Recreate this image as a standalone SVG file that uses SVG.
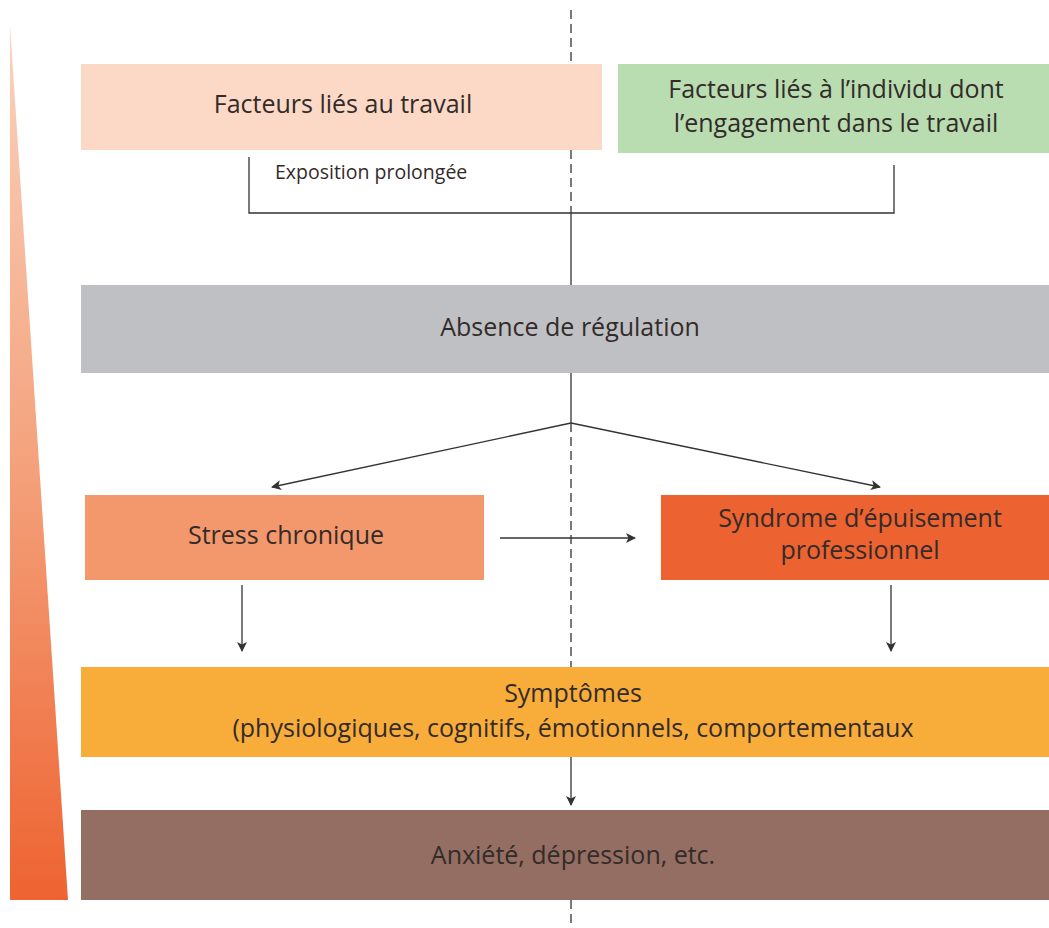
<svg xmlns="http://www.w3.org/2000/svg" width="1049" height="928" viewBox="0 0 1049 928">
<defs>
<linearGradient id="tri" x1="0" y1="0" x2="0" y2="1">
<stop offset="0" stop-color="#fad3bf"/>
<stop offset="0.5" stop-color="#f4a27c"/>
<stop offset="1" stop-color="#ee6331"/>
</linearGradient>
<marker id="ah" viewBox="0 0 10 10" refX="9" refY="5" markerWidth="10" markerHeight="10" markerUnits="userSpaceOnUse" orient="auto">
<path d="M0,0 L10,5 L0,10 L2.5,5 Z" fill="#333"/>
</marker>
<style>
.t{font-family:"Open Sans","Noto Sans",sans-serif;fill:#332b29;text-anchor:middle;font-size:25px}
.s{font-family:"Open Sans","Noto Sans",sans-serif;fill:#332b29;font-size:19.5px}
.c{stroke:#333;stroke-width:1.3;fill:none}
.d{stroke:#333;stroke-width:1.3;stroke-dasharray:9,5;fill:none}
</style>
</defs>
<rect width="1049" height="928" fill="#fff"/>
<polygon points="10,25 68,900 10,900" fill="url(#tri)"/>
<g id="connectors">
<line class="d" x1="571" y1="10" x2="571" y2="213"/>
<line class="c" x1="571" y1="213" x2="571" y2="285"/>
<line class="c" x1="571" y1="373" x2="571" y2="423"/>
<line class="d" x1="571" y1="423" x2="571" y2="667"/>
<line class="d" x1="571" y1="900" x2="571" y2="928"/>
<polyline class="c" points="249,157 249,213 894,213 894,165"/>
<line class="c" x1="571" y1="423" x2="272" y2="487" marker-end="url(#ah)"/>
<line class="c" x1="571" y1="423" x2="880" y2="487" marker-end="url(#ah)"/>
<line class="c" x1="500" y1="538" x2="635" y2="538" marker-end="url(#ah)"/>
<line class="c" x1="242" y1="585" x2="242" y2="651" marker-end="url(#ah)"/>
<line class="c" x1="891" y1="585" x2="891" y2="651" marker-end="url(#ah)"/>
<line class="c" x1="571" y1="757" x2="571" y2="805" marker-end="url(#ah)"/>
</g>
<g id="travail">
<rect x="81" y="64" width="521" height="86" fill="#fbd9c6"/>
<text class="t" x="343" y="113">Facteurs liés au travail</text>
</g>
<g id="individu">
<rect x="618" y="64" width="431" height="89" fill="#b9ddb1"/>
<text class="t" x="836" y="98">Facteurs liés à l’individu dont</text>
<text class="t" x="836" y="132">l’engagement dans le travail</text>
</g>
<g id="exposition">
<text class="s" x="275" y="179">Exposition prolongée</text>
</g>
<g id="regulation">
<rect x="81" y="285" width="968" height="88" fill="#bfc0c4"/>
<text class="t" x="570" y="336">Absence de régulation</text>
</g>
<g id="stress">
<rect x="85" y="495" width="399" height="85" fill="#f3976c"/>
<text class="t" x="286" y="544">Stress chronique</text>
</g>
<g id="syndrome">
<rect x="661" y="495" width="388" height="85" fill="#ec6230"/>
<text class="t" x="860" y="527">Syndrome d’épuisement</text>
<text class="t" x="860" y="559">professionnel</text>
</g>
<g id="symptomes">
<rect x="81" y="667" width="968" height="90" fill="#f8ad3b"/>
<text class="t" x="573" y="702">Symptômes</text>
<text class="t" x="573" y="737">(physiologiques, cognitifs, émotionnels, comportementaux</text>
</g>
<g id="anxiete">
<rect x="81" y="810" width="968" height="90" fill="#946e62"/>
<text class="t" x="573" y="864">Anxiété, dépression, etc.</text>
</g>
</svg>
